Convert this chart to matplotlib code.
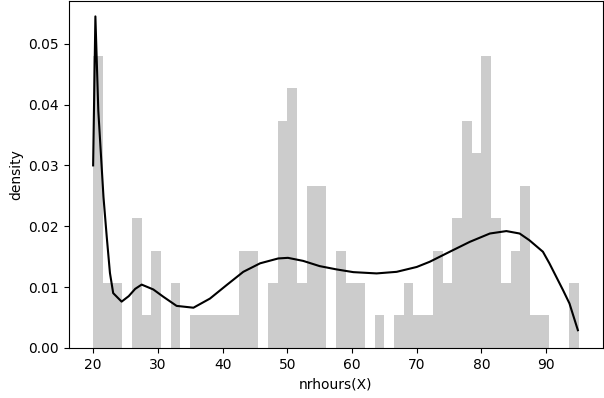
import matplotlib

matplotlib.use("Agg")
import matplotlib.pyplot as plt
import numpy as np

# histogram: 50 bins between 20 and 95, counts
bin_start = 20.0
bin_stop = 95.0
counts = [9, 2, 2, 0, 4, 1, 3, 0, 2, 0,
          1, 1, 1, 1, 1, 3, 3, 0, 2, 7,
          8, 2, 5, 5, 0, 3, 2, 2, 0, 1,
          0, 1, 2, 1, 1, 3, 2, 4, 7, 6,
          9, 4, 2, 3, 5, 1, 1, 0, 0, 2]

# density curve, points
curve_x = [20.0, 20.35, 20.8, 21.6, 22.1, 22.6, 23.1, 24.4, 25.5, 26.5,
           27.5, 29.3, 30.85, 32.9, 35.5, 38.05, 40.6, 43.2, 45.8, 48.6,
           50.1, 52.45, 55.0, 57.6, 60.2, 63.8, 66.9, 70.0, 72.0, 75.1,
           78.2, 81.3, 83.85, 85.9, 87.4, 89.5, 90.5, 92.6, 93.6, 94.9]
curve_y = [0.0300, 0.0545, 0.0390, 0.0248, 0.0183, 0.0123, 0.0090, 0.0076, 0.0085, 0.0097,
           0.0104, 0.0096, 0.0084, 0.0069, 0.0066, 0.0081, 0.0103, 0.0125, 0.0139, 0.0147,
           0.0148, 0.0143, 0.01344, 0.0129, 0.01245, 0.01224, 0.0125, 0.0133, 0.01415, 0.0158,
           0.01743, 0.0188, 0.0192, 0.0188, 0.0177, 0.0158, 0.0139, 0.0095, 0.0073, 0.0029]


def main() -> None:
    fig = plt.figure(figsize=(6.04, 3.98), dpi=100)
    ax = fig.add_axes([0.114, 0.126, 0.884, 0.871])

    edges = np.linspace(bin_start, bin_stop, len(counts) + 1)
    width = edges[1] - edges[0]
    dens = np.array(counts) / (sum(counts) * width)
    ax.bar(edges[:-1], dens, width=width, align="edge",
           color="gray", alpha=0.4, linewidth=0)

    ax.plot(curve_x, curve_y, color="black", linewidth=1.5)

    ax.set_xlim(16.25, 98.75)
    ax.set_ylim(0, 0.057)
    ax.set_yticks([0.0, 0.01, 0.02, 0.03, 0.04, 0.05])
    ax.set_xlabel("nrhours(X)")
    ax.set_ylabel("density")

    fig.savefig("out.png", dpi=100)
    plt.close(fig)


if __name__ == "__main__":
    main()
